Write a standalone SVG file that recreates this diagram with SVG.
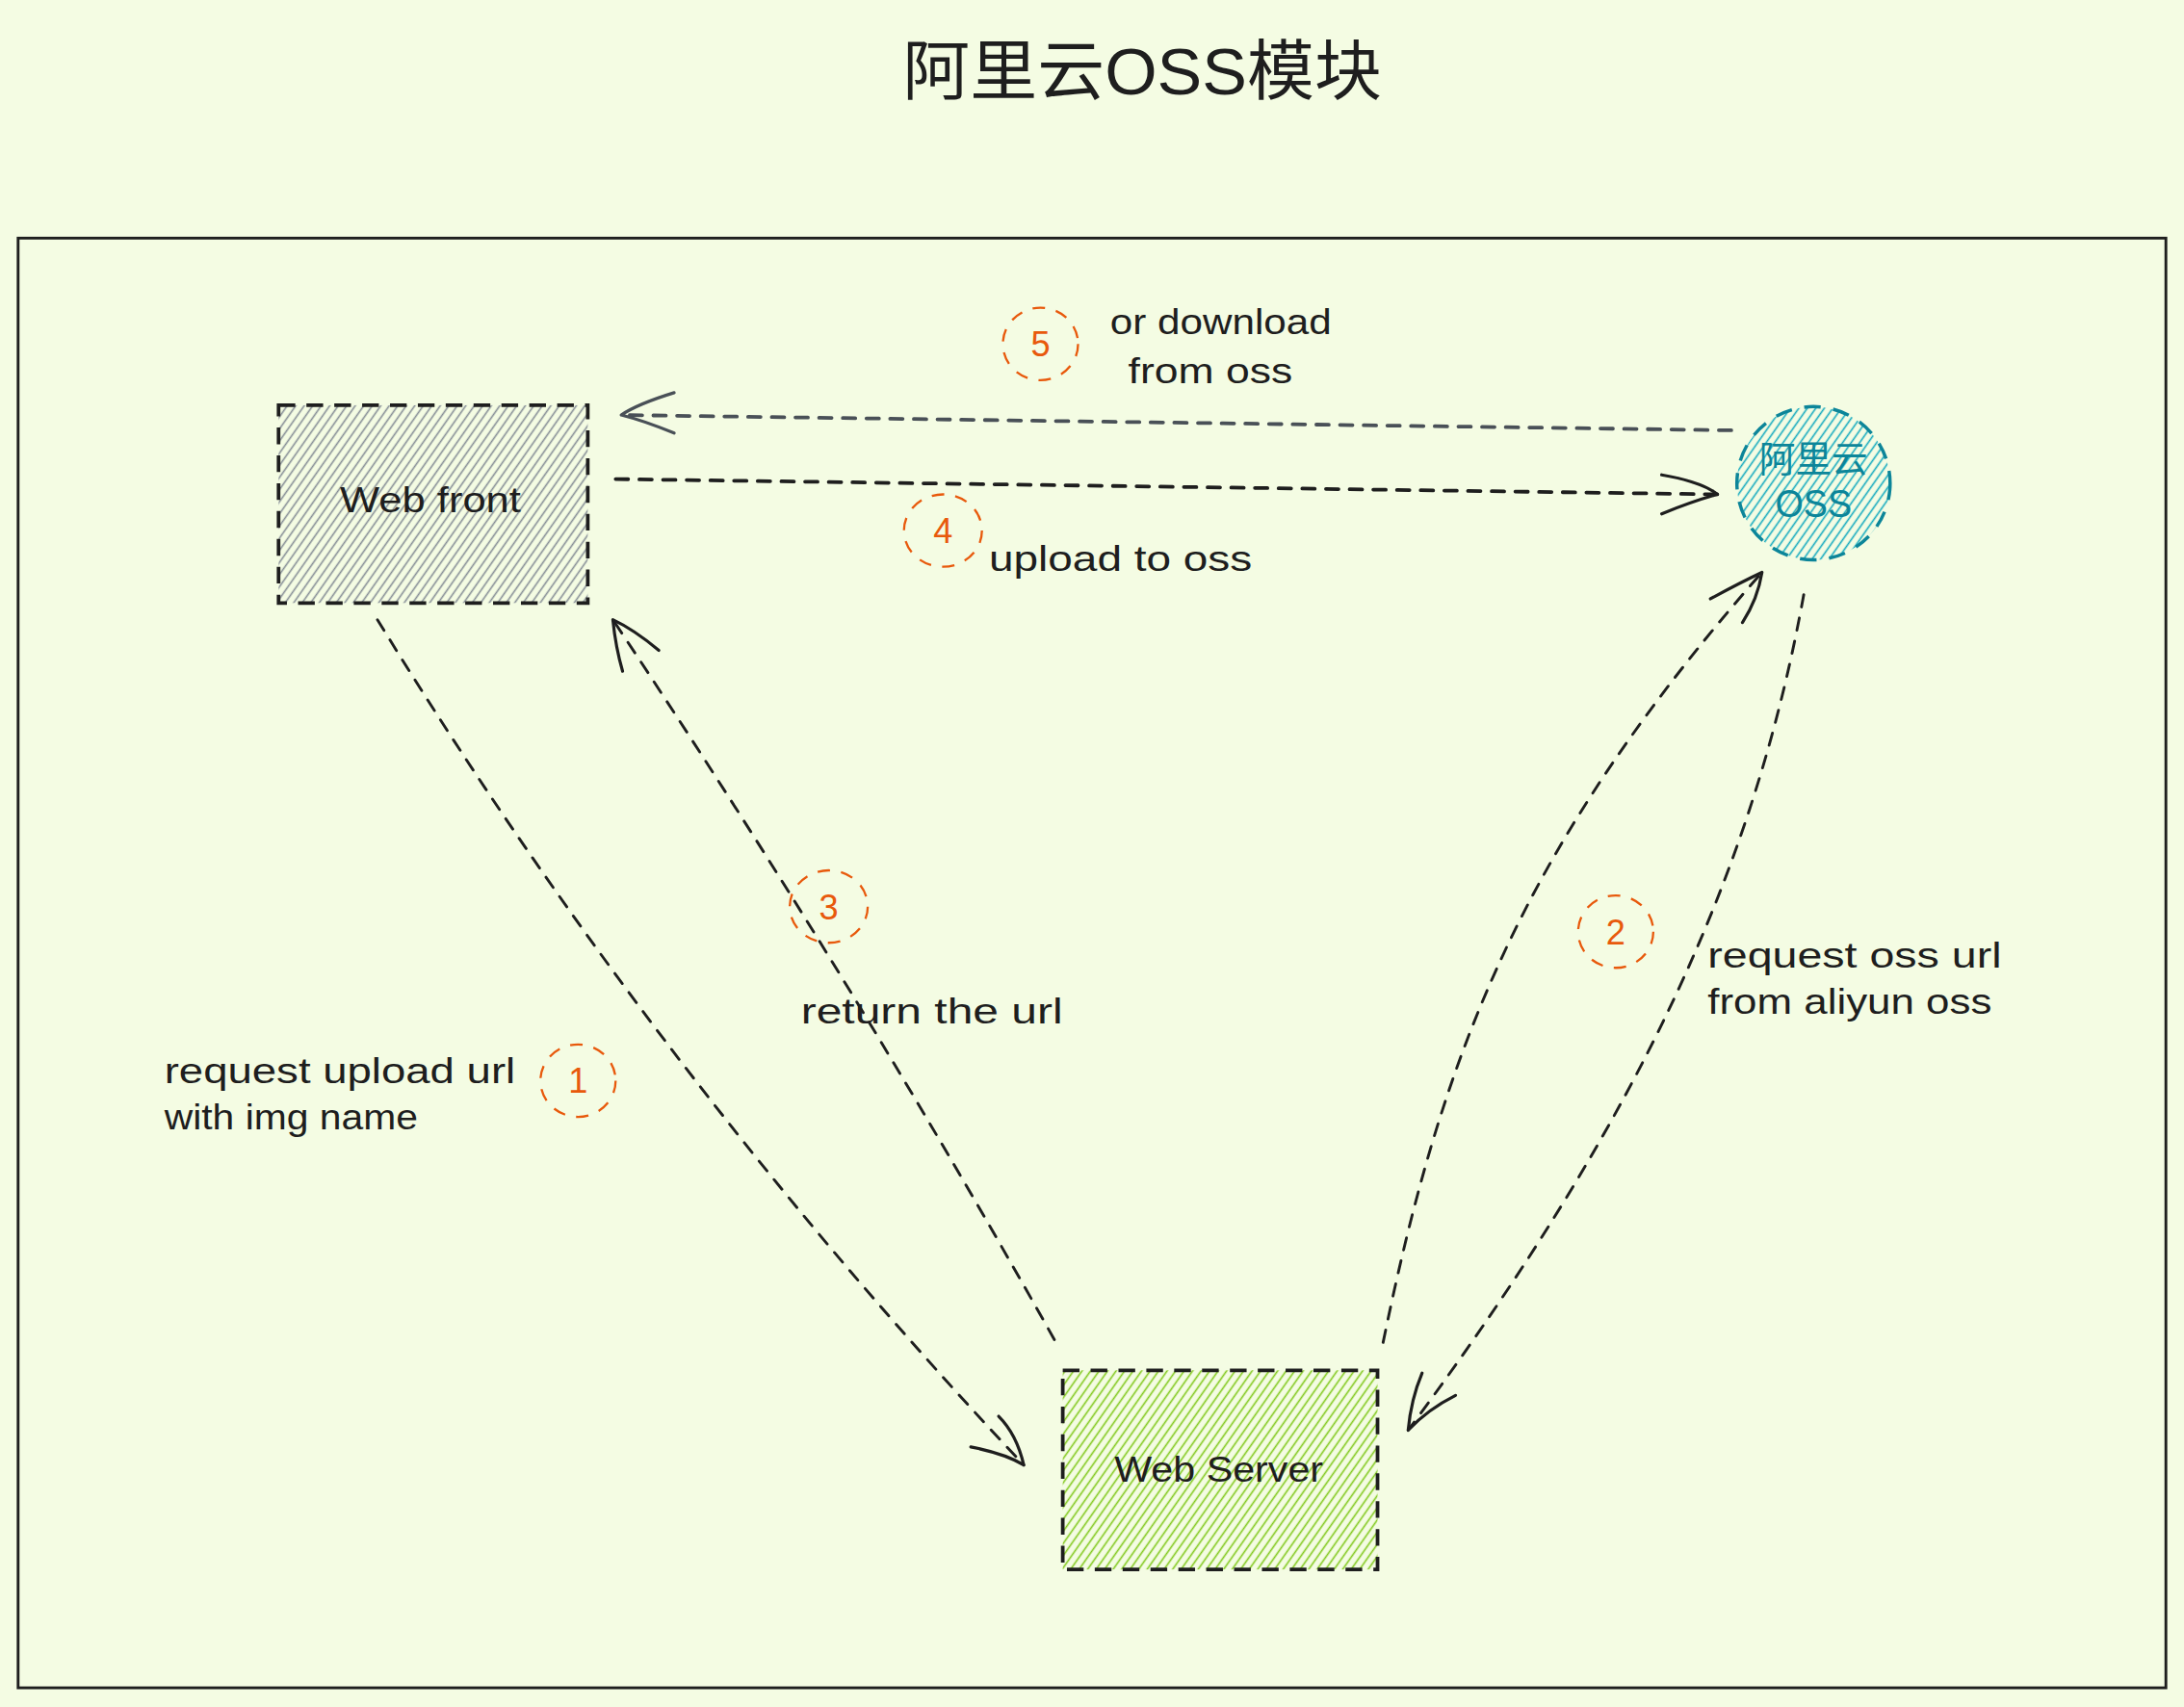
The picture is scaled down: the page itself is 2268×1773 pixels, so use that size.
<svg xmlns="http://www.w3.org/2000/svg" width="2268" height="1773" viewBox="0 0 2268 1773">
<style>
.lbl{font-family:"Liberation Sans","Noto Sans CJK SC",sans-serif;font-size:26px;fill:#1e1e1e}
.num{font-family:"Liberation Sans",sans-serif;font-size:25px;fill:#e8590c;text-anchor:middle}
.conn{fill:none;stroke:#1e1e1e;stroke-width:2;stroke-dasharray:9 8;stroke-linecap:round}
.head{fill:none;stroke:#1e1e1e;stroke-width:2.2;stroke-linecap:round;stroke-linejoin:round}
.badge{fill:none;stroke:#e8590c;stroke-width:1.6;stroke-dasharray:9 8}
.box{stroke:#1e1e1e;stroke-width:2.6;stroke-dasharray:12 8}
</style>
<defs>
<pattern id="hGray" patternUnits="userSpaceOnUse" width="5" height="5" patternTransform="rotate(35)"><line x1="1" y1="0" x2="1" y2="5" stroke="#868e96" stroke-width="1.1"/></pattern>
<pattern id="hGreen" patternUnits="userSpaceOnUse" width="5" height="5" patternTransform="rotate(35)"><line x1="1" y1="0" x2="1" y2="5" stroke="#82c91e" stroke-width="1.1"/></pattern>
<pattern id="hCyan" patternUnits="userSpaceOnUse" width="5" height="5" patternTransform="rotate(35)"><line x1="1" y1="0" x2="1" y2="5" stroke="#15aabf" stroke-width="1.1"/></pattern>
</defs>
<rect x="0" y="0" width="2268" height="1773" fill="#f4fce3"/>
<g transform="scale(1.44643)">
<text id="title" x="820" y="68" text-anchor="middle" textLength="344" lengthAdjust="spacingAndGlyphs" style="font-family:'Liberation Sans','Noto Sans CJK SC',sans-serif;font-size:47px;fill:#1e1e1e">阿里云OSS模块</text>
<rect id="frame" x="13" y="171" width="1542" height="1041" fill="none" stroke="#1e1e1e" stroke-width="2"/>

<g id="web-front">
<rect x="200" y="291" width="222" height="142" fill="url(#hGray)" class="box"/>
<text x="309" y="368" class="lbl" text-anchor="middle" textLength="130" lengthAdjust="spacingAndGlyphs">Web front</text>
</g>
<g id="aliyun-oss">
<circle cx="1302" cy="347" r="55" fill="url(#hCyan)" stroke="#0c8599" stroke-width="2.4" stroke-dasharray="12 9"/>
<text x="1302" y="339" text-anchor="middle" style="font-family:'Noto Sans CJK SC',sans-serif;font-size:26px;fill:#0c8599">阿里云</text>
<text x="1302" y="371" text-anchor="middle" textLength="55" lengthAdjust="spacingAndGlyphs" style="font-family:'Liberation Sans',sans-serif;font-size:28px;fill:#0c8599">OSS</text>
</g>
<g id="web-server">
<rect x="763" y="984" width="226" height="143" fill="url(#hGreen)" class="box"/>
<text x="875" y="1064" class="lbl" text-anchor="middle" textLength="150" lengthAdjust="spacingAndGlyphs">Web Server</text>
</g>

<g id="connectors">
<path class="conn" d="M271,445 Q470,770 735,1052"/>
<path class="head" d="M697,1039 Q722,1044 735,1052 Q730,1030 717,1017"/>
<path class="conn" d="M993,964 C1035,760 1090,610 1265,411"/>
<path class="head" d="M1228,430 Q1250,418 1265,411 Q1262,430 1251,447"/>
<path class="conn" d="M1295,427 C1260,620 1180,800 1011,1027"/>
<path class="head" d="M1045,1002 Q1025,1012 1011,1027 Q1013,1005 1021,986"/>
<path class="conn" d="M757,962 Q610,700 440,445"/>
<path class="head" d="M473,467 Q455,452 440,445 Q442,465 447,482"/>
<path class="conn" d="M442,344 L1233,355" style="stroke-width:2.6"/>
<path class="head" d="M1193,341 Q1222,346 1233,355 Q1215,360 1193,369"/>
<path class="conn" d="M1243,309 L446,298" style="stroke:#495057;stroke-width:2.6"/>
<path class="head" d="M484,282 Q458,290 446,298 Q462,302 484,311" style="stroke:#495057"/>
</g>

<g id="badge-1"><ellipse cx="415" cy="776" rx="27" ry="26" class="badge"/><text x="415" y="785" class="num">1</text></g>
<g id="badge-2"><ellipse cx="1160" cy="669" rx="27" ry="26" class="badge"/><text x="1160" y="678" class="num">2</text></g>
<g id="badge-3"><ellipse cx="595" cy="651" rx="28" ry="26" class="badge"/><text x="595" y="660" class="num">3</text></g>
<g id="badge-4"><ellipse cx="677" cy="381" rx="28" ry="26" class="badge"/><text x="677" y="390" class="num">4</text></g>
<g id="badge-5"><ellipse cx="747" cy="247" rx="27" ry="26" class="badge"/><text x="747" y="256" class="num">5</text></g>

<g id="labels">
<text x="797" y="240" class="lbl" textLength="159" lengthAdjust="spacingAndGlyphs">or download</text>
<text x="810" y="275" class="lbl" textLength="118" lengthAdjust="spacingAndGlyphs">from oss</text>
<text x="710" y="410" class="lbl" textLength="189" lengthAdjust="spacingAndGlyphs">upload to oss</text>
<text x="575" y="735" class="lbl" textLength="188" lengthAdjust="spacingAndGlyphs">return the url</text>
<text x="1226" y="695" class="lbl" textLength="211" lengthAdjust="spacingAndGlyphs">request oss url</text>
<text x="1226" y="728" class="lbl" textLength="204" lengthAdjust="spacingAndGlyphs">from aliyun oss</text>
<text x="118" y="778" class="lbl" textLength="252" lengthAdjust="spacingAndGlyphs">request upload url</text>
<text x="118" y="811" class="lbl" textLength="182" lengthAdjust="spacingAndGlyphs">with img name</text>
</g>
</g>
</svg>
